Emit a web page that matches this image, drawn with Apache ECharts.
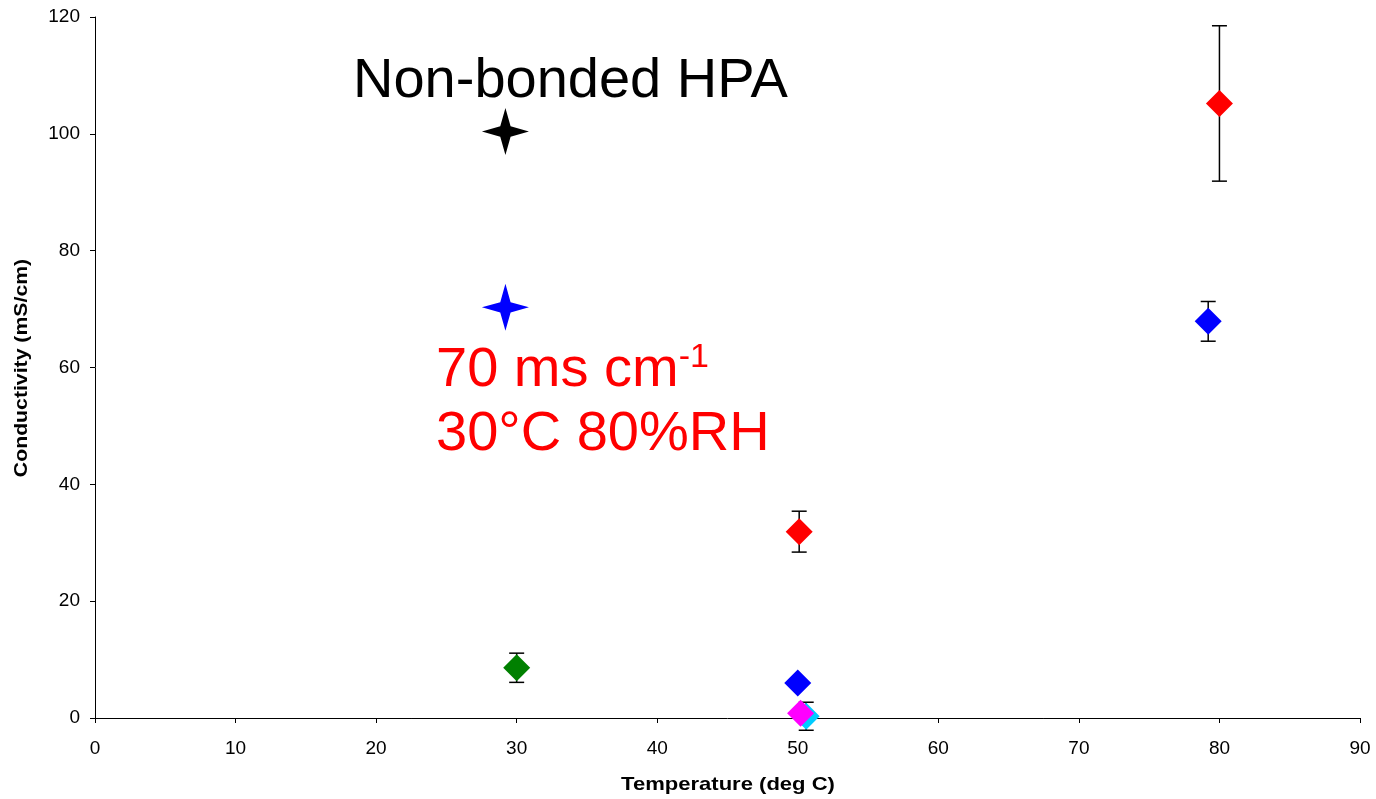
<!DOCTYPE html>
<html><head><meta charset="utf-8">
<script src="https://cdn.jsdelivr.net/npm/echarts@6/dist/echarts.min.js"></script>
<style>html,body{margin:0;padding:0;background:#fff}#c{width:1376px;height:799px}</style>
</head><body><div id="c"></div>
<script>
// Data: [temperature, conductivity, error]
const greenPts = [[30, 8.6, 2.5]];
const redPts = [[50.1, 31.9, 3.5], [80, 105.2, 13.3]];
const bluePts = [[50, 6.0, 0], [79.2, 67.9, 3.4]];
const cyanPts = [[50.6, 0.3, 2.4]];
const magentaPts = [[50.2, 0.8, 0]];
const blackStar = [[29.2, 100.4]];
const blueStar = [[29.2, 70.3]];
const xTicks = [0, 10, 20, 30, 40, 50, 60, 70, 80, 90];
const yTicks = [0, 20, 40, 60, 80, 100, 120];
const xTitle = 'Temperature (deg C)';
const yTitle = 'Conductivity (mS/cm)';
const note1 = 'Non-bonded HPA';
const note2a = '70 ms cm';
const note2sup = '-1';
const note3 = '30°C 80%RH';

const allErr = [].concat(greenPts, redPts, bluePts, cyanPts, magentaPts).filter(p => p[2] > 0);
const starPath = 'path://M0,-10 L2.2,-2.2 L10,0 L2.2,2.2 L0,10 L-2.2,2.2 L-10,0 L-2.2,-2.2 Z';
const FONT = 'Liberation Sans, Arial, sans-serif';

function diamondSeries(name, data, color) {
  return {
    name, type: 'scatter', data: data.map(p => [p[0], p[1]]),
    symbol: 'diamond', symbolSize: 27,
    itemStyle: { color: color, opacity: 1 }, z: 5
  };
}

const chart = echarts.init(document.getElementById('c'), null, { renderer: 'canvas' });
chart.setOption({
  animation: false,
  backgroundColor: '#fff',
  grid: { left: 95, right: 16, top: 17, bottom: 81 },
  xAxis: {
    type: 'value', min: 0, max: 90, interval: 10,
    splitLine: { show: false },
    axisLine: { lineStyle: { color: '#000', width: 1 } },
    axisTick: { show: true, length: 5, lineStyle: { color: '#000' } },
    axisLabel: { color: '#000', fontSize: 19, fontFamily: FONT, margin: 21,
      formatter: v => xTicks.indexOf(v) >= 0 ? String(v) : '' }
  },
  yAxis: {
    type: 'value', min: 0, max: 120, interval: 20,
    splitLine: { show: false },
    axisLine: { show: true, lineStyle: { color: '#000', width: 1 } },
    axisTick: { show: true, length: 5, lineStyle: { color: '#000' } },
    axisLabel: { color: '#000', fontSize: 19, fontFamily: FONT, margin: 15,
      formatter: v => yTicks.indexOf(v) >= 0 ? String(v) : '' }
  },
  series: [
    {
      type: 'custom', name: 'err', data: allErr, z: 2,
      renderItem: function (params, api) {
        const x = api.value(0), y = api.value(1), e = api.value(2);
        const top = api.coord([x, y + e]);
        const bot = api.coord([x, y - e]);
        const hw = 7.5;
        const st = { stroke: '#000', lineWidth: 1.5 };
        return {
          type: 'group', children: [
            { type: 'line', shape: { x1: top[0], y1: top[1], x2: bot[0], y2: bot[1] }, style: st },
            { type: 'line', shape: { x1: top[0] - hw, y1: top[1], x2: top[0] + hw, y2: top[1] }, style: st },
            { type: 'line', shape: { x1: bot[0] - hw, y1: bot[1], x2: bot[0] + hw, y2: bot[1] }, style: st }
          ]
        };
      },
      encode: { x: 0, y: 1 }
    },
    diamondSeries('green', greenPts, '#008000'),
    diamondSeries('red', redPts, '#ff0000'),
    diamondSeries('blue', bluePts, '#0000ff'),
    diamondSeries('cyan', cyanPts, '#00ccff'),
    diamondSeries('magenta', magentaPts, '#ff00ff'),
    { name: 'blackStar', type: 'scatter', data: blackStar, symbol: starPath, symbolSize: 47, itemStyle: { color: '#000', opacity: 1 }, z: 5 },
    { name: 'blueStar', type: 'scatter', data: blueStar, symbol: starPath, symbolSize: 47, itemStyle: { color: '#0000ff', opacity: 1 }, z: 5 }
  ],
  graphic: [
    { type: 'text', x: 728, y: 785, originX: 0, originY: 0, scaleX: 1.16,
      style: { text: xTitle, fill: '#000', font: 'bold 19px ' + FONT, textAlign: 'center', textVerticalAlign: 'middle' } },
    { type: 'text', x: 22, y: 368, rotation: Math.PI / 2, originX: 0, originY: 0, scaleX: 1.18,
      style: { text: yTitle, fill: '#000', font: 'bold 18px ' + FONT, textAlign: 'center', textVerticalAlign: 'middle' } },
    { type: 'text', left: 353, top: 54, style: { text: note1, fill: '#000', font: '56px ' + FONT } },
    { type: 'text', left: 436, top: 341, style: {
        text: '{a|' + note2a + '}{s|' + note2sup + '}',
        rich: {
          a: { fill: '#ff0000', fontSize: 56, fontFamily: FONT, verticalAlign: 'bottom' },
          s: { fill: '#ff0000', fontSize: 34, fontFamily: FONT, verticalAlign: 'top', padding: [0, 0, 24, 0] }
        }
    } },
    { type: 'text', left: 436, top: 407, style: { text: note3, fill: '#ff0000', font: '56px ' + FONT } }
  ]
});
</script></body></html>
